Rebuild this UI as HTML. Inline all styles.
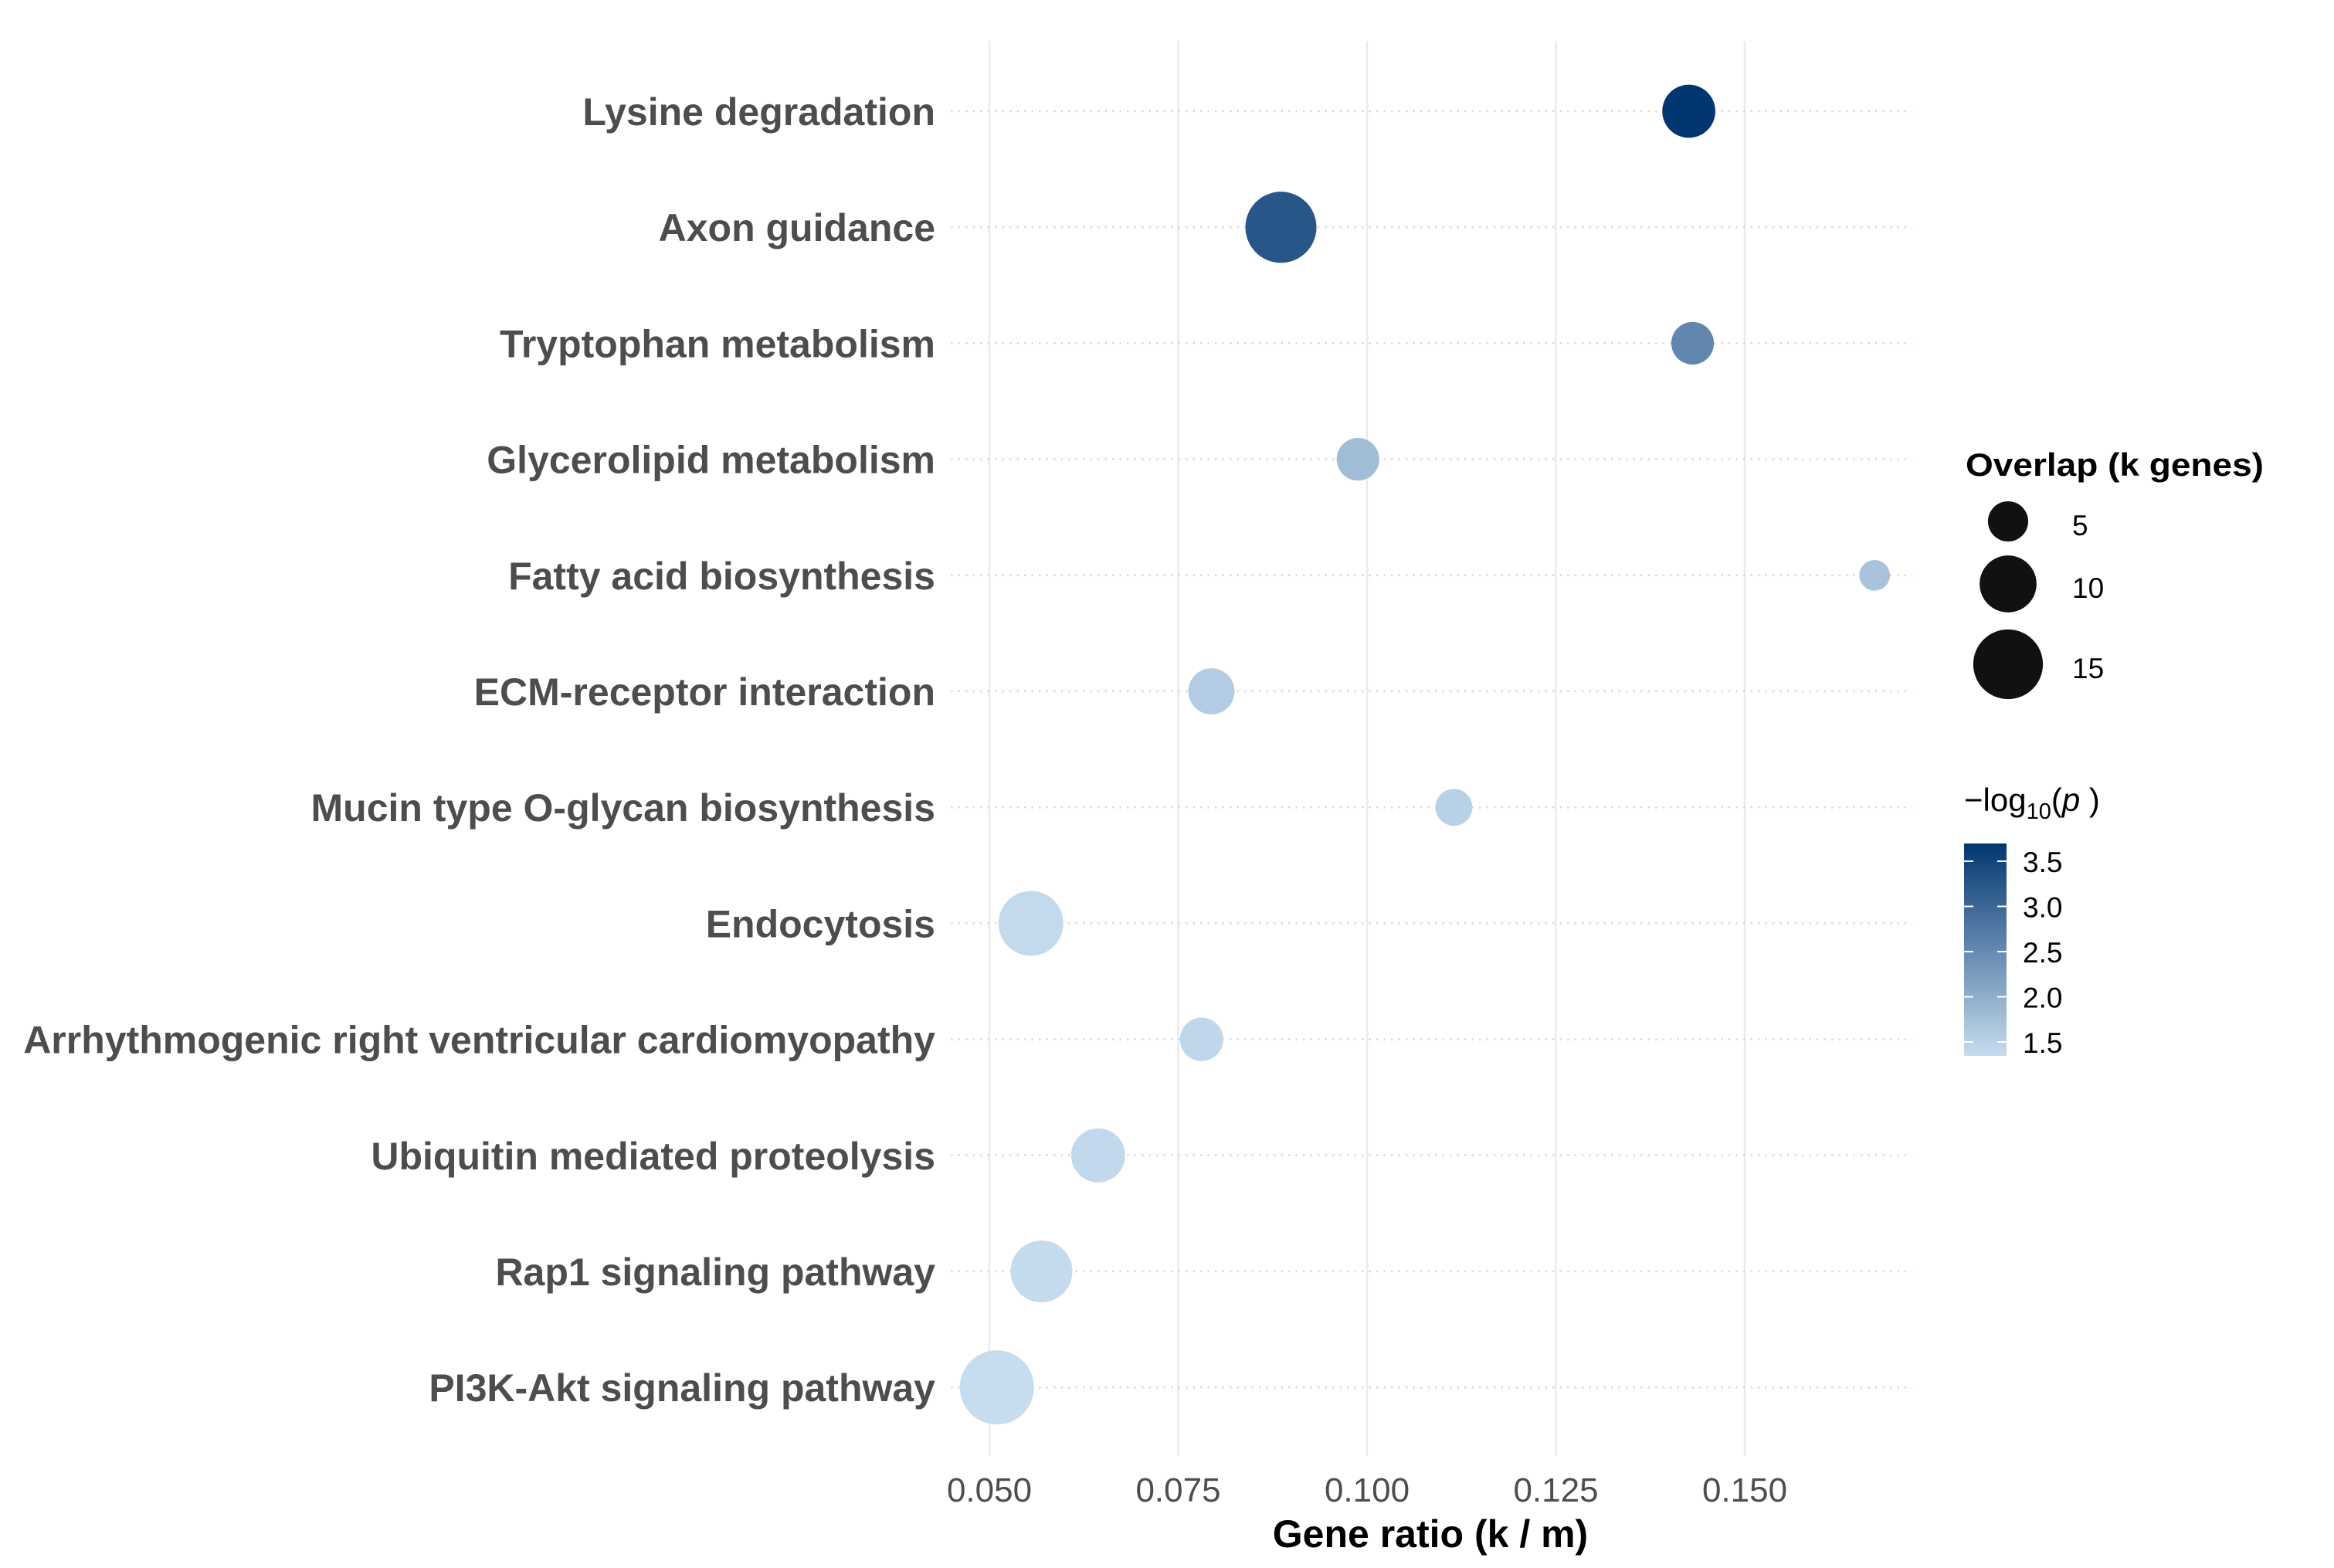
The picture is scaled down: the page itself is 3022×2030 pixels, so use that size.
<!DOCTYPE html>
<html><head><meta charset="utf-8">
<style>
html,body{margin:0;padding:0;background:#fff;}
svg{display:block;}
text{font-family:"Liberation Sans",Arial,sans-serif;}
</style></head>
<body>
<svg id="chart" width="3022" height="2030" viewBox="0 0 3022 2030" xmlns="http://www.w3.org/2000/svg">
  <rect x="0" y="0" width="3022" height="2030" fill="#ffffff"/>
  <g id="grid"></g>
  <g id="ylabels"></g>
  <g id="points"></g>
  <g id="xticks"></g>
  <text x="1852" y="2003" font-size="50" font-weight="bold" fill="#000" text-anchor="middle">Gene ratio (k / m)</text>

  <g>
    <text x="2545" y="616" font-size="42" font-weight="bold" fill="#000" textLength="386" lengthAdjust="spacingAndGlyphs">Overlap (k genes)</text>
    <g id="sizeLegend"></g>
  </g>
  <g>
    <text x="2543" y="1050" font-size="42" fill="#000">−log<tspan font-size="29" dy="10">10</tspan><tspan dy="-10">(</tspan><tspan font-style="italic">p</tspan><tspan> )</tspan></text>
    <defs>
      <linearGradient id="cbar" x1="0" y1="1" x2="0" y2="0">
        <stop offset="0" stop-color="#c6dcef"/>
        <stop offset="1" stop-color="#023670"/>
      </linearGradient>
    </defs>
    <rect x="2543" y="1092" width="55" height="275" fill="url(#cbar)"/>
    <g id="cbarTicks"></g>
  </g>
</svg>
<script>
const categories = ["Lysine degradation","Axon guidance","Tryptophan metabolism","Glycerolipid metabolism","Fatty acid biosynthesis","ECM-receptor interaction","Mucin type O-glycan biosynthesis","Endocytosis","Arrhythmogenic right ventricular cardiomyopathy","Ubiquitin mediated proteolysis","Rap1 signaling pathway","PI3K-Akt signaling pathway"];
const geneRatio = [0.1426,0.0886,0.1431,0.0988,0.1672,0.0794,0.1115,0.0555,0.0781,0.0644,0.0569,0.0510];
const overlapK = [8.7,15.6,5.6,5.6,2.9,6.6,4.2,13,5.8,9,11.8,17];
const negLogP = [3.70,3.25,2.55,1.80,1.70,1.57,1.51,1.38,1.42,1.40,1.37,1.35];
const xTicks = [0.050,0.075,0.100,0.125,0.150];
const xTickLabels = ["0.050","0.075","0.100","0.125","0.150"];
const sizeBreaks = [5,10,15];
const colorBreaks = [1.5,2.0,2.5,3.0,3.5];
const colorBreakLabels = ["1.5","2.0","2.5","3.0","3.5"];

const NS = "http://www.w3.org/2000/svg";
function xScale(v){ return 1281 + (v - 0.05) / 0.025 * 244.5; }
function yScale(i){ return 144 + i * 150.2; }
function rScale(k){ return 11.65 * Math.sqrt(k); }
const cMin = 1.35, cMax = 3.70;
const lowC = [198,220,239], highC = [2,54,112];
function colorScale(v){
  let t = (v - cMin) / (cMax - cMin); t = Math.max(0, Math.min(1, t));
  const c = lowC.map((l, j) => Math.round(l + (highC[j] - l) * t));
  return "rgb(" + c.join(",") + ")";
}
function cbarY(v){ return 1349 - (v - 1.5) * 117; }
function mk(tag, attrs, parent){
  const e = document.createElementNS(NS, tag);
  for (const k in attrs) e.setAttribute(k, attrs[k]);
  parent.appendChild(e);
  return e;
}

const grid = document.getElementById("grid");
xTicks.forEach((t) => {
  const l = mk("line", {x1: xScale(t), x2: xScale(t), y1: 53, y2: 1885, stroke: "#ebebeb", "stroke-width": 2.5}, grid);
  
  
});
categories.forEach((c, i) => {
  const l = mk("line", {x1: 1231, x2: 2476, y1: yScale(i), y2: yScale(i), stroke: "#d9d9d9", "stroke-width": 2.5, "stroke-dasharray": "2.5 7"}, grid);
  
  
});

const yl = document.getElementById("ylabels");
categories.forEach((c, i) => {
  const t = mk("text", {x: 1211, y: yScale(i) + 18, "font-size": 50, "font-weight": "bold", fill: "#4d4d4d", "text-anchor": "end"}, yl);
  t.textContent = c;
  
  
});

const pts = document.getElementById("points");
categories.forEach((c, i) => {
  const p = mk("circle", {cx: xScale(geneRatio[i]), cy: yScale(i), r: rScale(overlapK[i]), fill: colorScale(negLogP[i])}, pts);
  
  
});

const xt = document.getElementById("xticks");
xTicks.forEach((t, i) => {
  const e = mk("text", {x: xScale(t), y: 1944, "font-size": 44, fill: "#4d4d4d", "text-anchor": "middle"}, xt);
  e.textContent = xTickLabels[i];
  
  
});

const sl = document.getElementById("sizeLegend");
const slY = [675, 756, 860];
sizeBreaks.forEach((k, i) => {
  const c = mk("circle", {cx: 2600, cy: slY[i], r: rScale(k), fill: "#111111"}, sl);
  
  
  const t = mk("text", {x: 2683, y: slY[i] + 18, "font-size": 37, fill: "#000"}, sl);
  t.textContent = String(k);
  
  
});

const cb = document.getElementById("cbarTicks");
colorBreaks.forEach((v, i) => {
  const y = cbarY(v);
  const a = mk("line", {x1: 2543, x2: 2555, y1: y, y2: y, stroke: "#fff", "stroke-width": 2}, cb);
  
  
  const b = mk("line", {x1: 2586, x2: 2598, y1: y, y2: y, stroke: "#fff", "stroke-width": 2}, cb);
  
  
  const t = mk("text", {x: 2619, y: y + 14, "font-size": 37, fill: "#000"}, cb);
  t.textContent = colorBreakLabels[i];
  
  
});
</script>
</body></html>
